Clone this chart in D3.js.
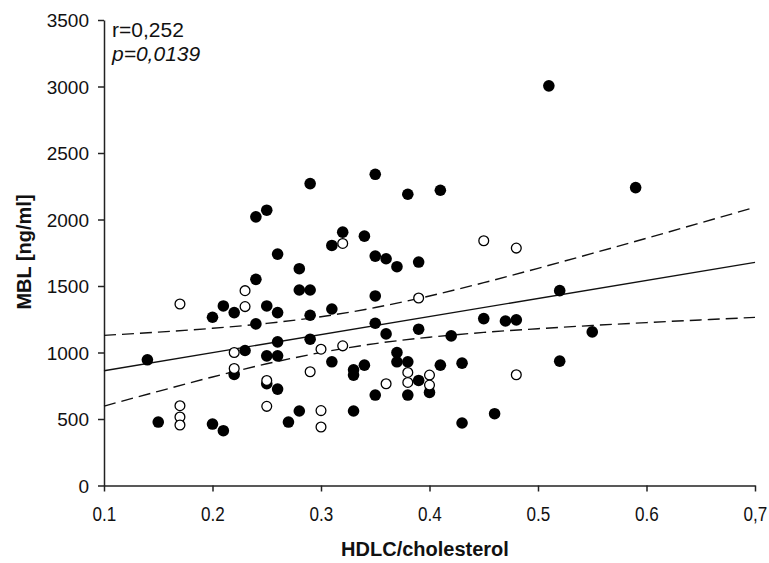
<!DOCTYPE html>
<html>
<head>
<meta charset="utf-8">
<script src="https://cdn.jsdelivr.net/npm/d3@7"></script>
<style>
  html, body { margin: 0; padding: 0; background: #fff; }
  svg { display: block; font-family: "Liberation Sans", Arial, sans-serif; }
</style>
</head>
<body>
<svg id="chart" width="769" height="563"></svg>
<script>
// ---- data ----
const filledHDLC = [0.29,0.24,0.25,0.26,0.28,0.24,0.28,0.29,0.21,0.25,0.20,0.22,0.26,0.29,0.24,0.14,0.23,0.25,0.26,0.26,0.29,0.22,0.25,0.26,0.15,0.20,0.21,0.28,0.27,
  0.35,0.38,0.41,0.32,0.31,0.34,0.35,0.36,0.37,0.39,0.35,0.31,0.35,0.36,0.39,0.45,0.42,
  0.31,0.34,0.37,0.37,0.38,0.41,0.43,0.33,0.33,0.39,0.40,0.35,0.38,0.33,0.43,0.46,
  0.51,0.59,0.52,0.47,0.48,0.55,0.52];
const filledMBL = [2270,2020,2070,1740,1630,1550,1470,1470,1350,1350,1265,1300,1300,1280,1215,945,1015,975,975,1080,1100,835,765,725,477,462,412,560,477,
  2340,2190,2220,1905,1805,1875,1725,1705,1645,1680,1425,1327,1220,1140,1175,1255,1125,
  930,905,1000,930,930,905,920,870,830,790,700,680,680,560,470,540,
  3005,2240,1465,1237,1245,1155,935];
const openHDLC = [0.17,0.23,0.23,0.22,0.22,0.29,0.25,0.17,0.17,0.17,0.25,0.30,0.30,0.30,0.32,0.39,0.45,0.32,0.38,0.38,0.40,0.40,0.36,0.48,0.48];
const openMBL  = [1365,1465,1345,1000,880,855,790,600,515,455,595,1025,563,440,1820,1410,1840,1050,850,775,830,755,765,1785,833];

// regression line and 95% confidence band
const fitX     = [0.1, 0.7];
const fitY     = [863, 1678];
const bandX    = [0.10,0.15,0.20,0.25,0.30,0.35,0.40,0.45,0.50,0.55,0.60,0.65,0.70];
const bandUpper= [1129,1153,1182,1219,1269,1338,1425,1525,1633,1745,1859,1975,2092];
const bandLower= [597,708,816,915,1000,1067,1115,1151,1179,1203,1225,1245,1264];

const xTicks = [0.1,0.2,0.3,0.4,0.5,0.6,0.7];
const xTickLabels = ["0.1","0.2","0.3","0.4","0.5","0.6","0,7"];
const yTicks = [0,500,1000,1500,2000,2500,3000,3500];
const statR = "r=0,252";
const statP = "p=0,0139";
const xTitle = "HDLC/cholesterol";
const yTitle = "MBL [ng/ml]";

// ---- drawing ----
const svg = d3.select("#chart");
const x = d3.scaleLinear().domain([0.1, 0.7]).range([104, 755]);
const y = d3.scaleLinear().domain([0, 3500]).range([485.5, 20]);

const xAxis = d3.axisBottom(x).tickValues(xTicks)
  .tickFormat((d, i) => xTickLabels[i]).tickSize(6).tickSizeOuter(0).tickPadding(6);
const yAxis = d3.axisLeft(y).tickValues(yTicks)
  .tickFormat(d => d).tickSize(6).tickSizeOuter(0).tickPadding(9);

const gx = svg.append("g").attr("transform", "translate(0,485.5)").call(xAxis);
const gy = svg.append("g").attr("transform", "translate(104,0)").call(yAxis);
[gx, gy].forEach(g => {
  g.selectAll("path, line").attr("stroke", "#222").attr("stroke-width", 1.5);
  g.selectAll("text").attr("fill", "#111").style("font-size", "19px")
    .style("font-family", "'Liberation Sans', Arial, sans-serif");
});
// slightly condensed, tall digits as in the reference
gx.selectAll(".tick text").attr("dy", "1.15em").attr("transform", "scale(0.9,1.05)");
gy.selectAll("text").attr("dy", "0.35em");

// confidence band (dashed) and fit line
const line = d3.line().x(d => x(d[0])).y(d => y(d[1])).curve(d3.curveMonotoneX);
svg.append("path").attr("d", line(bandX.map((v, i) => [v, bandUpper[i]])))
  .attr("fill", "none").attr("stroke", "#111").attr("stroke-width", 1.4).attr("stroke-dasharray", "12,6");
svg.append("path").attr("d", line(bandX.map((v, i) => [v, bandLower[i]])))
  .attr("fill", "none").attr("stroke", "#111").attr("stroke-width", 1.4).attr("stroke-dasharray", "12,6");
svg.append("path").attr("d", line(fitX.map((v, i) => [v, fitY[i]])))
  .attr("fill", "none").attr("stroke", "#111").attr("stroke-width", 1.4);

// points
svg.append("g").selectAll("circle").data(filledHDLC.map((v, i) => [v, filledMBL[i]]))
  .join("circle").attr("cx", d => x(d[0])).attr("cy", d => y(d[1])).attr("r", 5.8)
  .attr("fill", "#000");
svg.append("g").selectAll("circle").data(openHDLC.map((v, i) => [v, openMBL[i]]))
  .join("circle").attr("cx", d => x(d[0])).attr("cy", d => y(d[1])).attr("r", 4.9)
  .attr("fill", "#fff").attr("stroke", "#000").attr("stroke-width", 1.3);

// stats
svg.append("text").attr("x", 112).attr("y", 37).style("font-size", "21px").attr("fill", "#111").text(statR);
svg.append("text").attr("x", 112).attr("y", 61).style("font-size", "21px").style("font-style", "italic").attr("fill", "#111").text(statP);

// axis titles
svg.append("text").attr("x", 425).attr("y", 556).attr("text-anchor", "middle")
  .style("font-size", "20px").style("font-weight", "bold").attr("fill", "#111").text(xTitle);
svg.append("text").attr("transform", "translate(31,252) rotate(-90)").attr("text-anchor", "middle")
  .style("font-size", "20px").style("font-weight", "bold").attr("fill", "#111").text(yTitle);
</script>
</body>
</html>
